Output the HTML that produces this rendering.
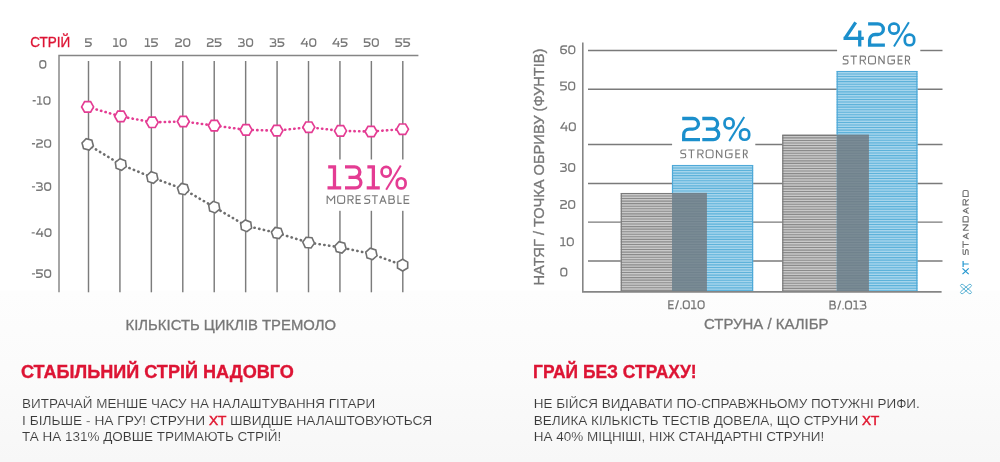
<!DOCTYPE html>
<html><head><meta charset="utf-8"><style>
html,body{margin:0;padding:0;background:#fff;}
body{width:1000px;height:462px;overflow:hidden;position:relative;font-family:"Liberation Sans", sans-serif;}
svg{position:absolute;left:0;top:0;will-change:transform;}
text{font-family:"Liberation Sans", sans-serif;}
</style></head><body>
<svg width="1000" height="462" viewBox="0 0 1000 462">
<defs>
<linearGradient id="bg" x1="0" y1="0" x2="0" y2="1">
<stop offset="0" stop-color="#fdfdfd"/><stop offset="0.45" stop-color="#fbfbfb"/><stop offset="1" stop-color="#f7f7f7"/>
</linearGradient>
</defs>
<rect x="0" y="0" width="1000" height="462" fill="#fff"/>
<rect x="0" y="290.5" width="1000" height="171.5" fill="url(#bg)"/>

<g stroke="#7c7c7c" stroke-width="1.45" fill="none">
<path d="M59,292.3 V55.5 H418.4" stroke="#858585"/>
<line x1="88.5" y1="61" x2="88.5" y2="292.3"/>
<line x1="119.93" y1="61" x2="119.93" y2="292.3"/>
<line x1="151.36" y1="61" x2="151.36" y2="292.3"/>
<line x1="182.79" y1="61" x2="182.79" y2="292.3"/>
<line x1="214.22" y1="61" x2="214.22" y2="292.3"/>
<line x1="245.65" y1="61" x2="245.65" y2="292.3"/>
<line x1="277.08" y1="61" x2="277.08" y2="292.3"/>
<line x1="308.51" y1="61" x2="308.51" y2="292.3"/>
<line x1="339.94" y1="61" x2="339.94" y2="292.3"/>
<line x1="371.37" y1="61" x2="371.37" y2="292.3"/>
<line x1="402.8" y1="61" x2="402.8" y2="292.3"/>
</g>
<text x="30.3" y="47" font-size="15" fill="#dd1434" stroke="#dd1434" stroke-width="0.35" textLength="40" lengthAdjust="spacingAndGlyphs">СТРІЙ</text>
<path d="M91.90,38.88 H85.77 V42.20 H88.79 A2.44,2.44 0 0 1 91.22,44.64 V43.79 A2.44,2.44 0 0 1 88.79,46.23 H85.10" fill="none" stroke="#7a7a7a" stroke-width="1.35"/>
<path d="M113.35,38.88 H116.73 M116.05,38.20 V46.90 M113.08,46.23 H118.48 M122.69,38.88 H123.67 A2.44,2.44 0 0 1 126.11,41.31 V43.79 A2.44,2.44 0 0 1 123.67,46.23 H122.69 A2.44,2.44 0 0 1 120.26,43.79 V41.31 A2.44,2.44 0 0 1 122.69,38.88 Z" fill="none" stroke="#7a7a7a" stroke-width="1.35"/>
<path d="M144.98,38.88 H148.36 M147.68,38.20 V46.90 M144.71,46.23 H150.11 M158.01,38.88 H151.89 V42.20 H154.90 A2.44,2.44 0 0 1 157.34,44.64 V43.79 A2.44,2.44 0 0 1 154.90,46.23 H151.21" fill="none" stroke="#7a7a7a" stroke-width="1.35"/>
<path d="M175.24,38.88 H178.93 A2.44,2.44 0 0 1 181.36,41.31 V40.11 A2.44,2.44 0 0 1 178.93,42.55 H178.35 A2.44,2.44 0 0 0 175.91,44.99 V46.23 H182.04 M186.25,38.88 H187.23 A2.44,2.44 0 0 1 189.66,41.31 V43.79 A2.44,2.44 0 0 1 187.23,46.23 H186.25 A2.44,2.44 0 0 1 183.81,43.79 V41.31 A2.44,2.44 0 0 1 186.25,38.88 Z" fill="none" stroke="#7a7a7a" stroke-width="1.35"/>
<path d="M206.87,38.88 H210.56 A2.44,2.44 0 0 1 213.00,41.31 V40.11 A2.44,2.44 0 0 1 210.56,42.55 H209.98 A2.44,2.44 0 0 0 207.55,44.99 V46.23 H213.67 M221.57,38.88 H215.45 V42.20 H218.46 A2.44,2.44 0 0 1 220.90,44.64 V43.79 A2.44,2.44 0 0 1 218.46,46.23 H214.77" fill="none" stroke="#7a7a7a" stroke-width="1.35"/>
<path d="M238.10,38.88 H241.98 A1.84,1.84 0 0 1 243.82,40.71 V40.71 A1.84,1.84 0 0 1 241.98,42.55 H240.14 M241.98,42.55 H242.39 A1.84,1.84 0 0 1 244.22,44.39 V44.39 A1.84,1.84 0 0 1 242.39,46.23 H238.10 M249.11,38.88 H250.09 A2.44,2.44 0 0 1 252.52,41.31 V43.79 A2.44,2.44 0 0 1 250.09,46.23 H249.11 A2.44,2.44 0 0 1 246.68,43.79 V41.31 A2.44,2.44 0 0 1 249.11,38.88 Z" fill="none" stroke="#7a7a7a" stroke-width="1.35"/>
<path d="M269.73,38.88 H273.61 A1.84,1.84 0 0 1 275.45,40.71 V40.71 A1.84,1.84 0 0 1 273.61,42.55 H271.77 M273.61,42.55 H274.02 A1.84,1.84 0 0 1 275.85,44.39 V44.39 A1.84,1.84 0 0 1 274.02,46.23 H269.73 M284.43,38.88 H278.30 V42.20 H281.32 A2.44,2.44 0 0 1 283.75,44.64 V43.79 A2.44,2.44 0 0 1 281.32,46.23 H277.63" fill="none" stroke="#7a7a7a" stroke-width="1.35"/>
<path d="M305.10,38.20 L301.33,43.94 M300.66,43.94 H308.06 M306.58,41.07 V46.90 M312.27,38.88 H313.25 A2.44,2.44 0 0 1 315.68,41.31 V43.79 A2.44,2.44 0 0 1 313.25,46.23 H312.27 A2.44,2.44 0 0 1 309.83,43.79 V41.31 A2.44,2.44 0 0 1 312.27,38.88 Z" fill="none" stroke="#7a7a7a" stroke-width="1.35"/>
<path d="M336.73,38.20 L332.97,43.94 M332.29,43.94 H339.69 M338.21,41.07 V46.90 M347.59,38.88 H341.47 V42.20 H344.48 A2.44,2.44 0 0 1 346.92,44.64 V43.79 A2.44,2.44 0 0 1 344.48,46.23 H340.79" fill="none" stroke="#7a7a7a" stroke-width="1.35"/>
<path d="M370.62,38.88 H364.50 V42.20 H367.51 A2.44,2.44 0 0 1 369.94,44.64 V43.79 A2.44,2.44 0 0 1 367.51,46.23 H363.82 M374.83,38.88 H375.81 A2.44,2.44 0 0 1 378.24,41.31 V43.79 A2.44,2.44 0 0 1 375.81,46.23 H374.83 A2.44,2.44 0 0 1 372.39,43.79 V41.31 A2.44,2.44 0 0 1 374.83,38.88 Z" fill="none" stroke="#7a7a7a" stroke-width="1.35"/>
<path d="M402.25,38.88 H396.12 V42.20 H399.14 A2.44,2.44 0 0 1 401.57,44.64 V43.79 A2.44,2.44 0 0 1 399.14,46.23 H395.45 M410.15,38.88 H404.02 V42.20 H407.04 A2.44,2.44 0 0 1 409.47,44.64 V43.79 A2.44,2.44 0 0 1 407.04,46.23 H403.35" fill="none" stroke="#7a7a7a" stroke-width="1.35"/>
<path d="M42.28,60.78 H43.32 A2.41,2.41 0 0 1 45.73,63.18 V65.62 A2.41,2.41 0 0 1 43.32,68.03 H42.28 A2.41,2.41 0 0 1 39.87,65.62 V63.18 A2.41,2.41 0 0 1 42.28,60.78 Z" fill="none" stroke="#7a7a7a" stroke-width="1.35"/>
<path d="M32.65,100.76 H35.75 M37.12,96.88 H40.49 M39.82,96.20 V104.80 M36.85,104.12 H42.25 M46.43,96.88 H47.47 A2.41,2.41 0 0 1 49.88,99.28 V101.72 A2.41,2.41 0 0 1 47.47,104.12 H46.43 A2.41,2.41 0 0 1 44.02,101.72 V99.28 A2.41,2.41 0 0 1 46.43,96.88 Z" fill="none" stroke="#7a7a7a" stroke-width="1.35"/>
<path d="M31.95,143.76 H35.05 M36.15,139.88 H39.87 A2.41,2.41 0 0 1 42.28,142.28 V141.09 A2.41,2.41 0 0 1 39.87,143.50 H39.23 A2.41,2.41 0 0 0 36.83,145.91 V147.12 H42.95 M47.13,139.88 H48.17 A2.41,2.41 0 0 1 50.58,142.28 V144.72 A2.41,2.41 0 0 1 48.17,147.12 H47.13 A2.41,2.41 0 0 1 44.73,144.72 V142.28 A2.41,2.41 0 0 1 47.13,139.88 Z" fill="none" stroke="#7a7a7a" stroke-width="1.35"/>
<path d="M31.95,186.86 H35.05 M36.15,182.97 H40.05 A1.81,1.81 0 0 1 41.87,184.79 V184.79 A1.81,1.81 0 0 1 40.05,186.60 H38.19 M40.05,186.60 H40.46 A1.81,1.81 0 0 1 42.28,188.41 V188.41 A1.81,1.81 0 0 1 40.46,190.22 H36.15 M47.13,182.97 H48.17 A2.41,2.41 0 0 1 50.58,185.38 V187.82 A2.41,2.41 0 0 1 48.17,190.22 H47.13 A2.41,2.41 0 0 1 44.73,187.82 V185.38 A2.41,2.41 0 0 1 47.13,182.97 Z" fill="none" stroke="#7a7a7a" stroke-width="1.35"/>
<path d="M31.65,232.86 H34.75 M40.29,228.30 L36.52,233.98 M35.85,233.98 H43.25 M41.77,231.14 V236.90 M47.43,228.97 H48.47 A2.41,2.41 0 0 1 50.88,231.38 V233.82 A2.41,2.41 0 0 1 48.47,236.22 H47.43 A2.41,2.41 0 0 1 45.02,233.82 V231.38 A2.41,2.41 0 0 1 47.43,228.97 Z" fill="none" stroke="#7a7a7a" stroke-width="1.35"/>
<path d="M31.95,273.86 H35.05 M42.95,269.98 H36.83 V273.26 H39.87 A2.41,2.41 0 0 1 42.28,275.66 V274.82 A2.41,2.41 0 0 1 39.87,277.23 H36.15 M47.13,269.98 H48.17 A2.41,2.41 0 0 1 50.58,272.38 V274.82 A2.41,2.41 0 0 1 48.17,277.23 H47.13 A2.41,2.41 0 0 1 44.73,274.82 V272.38 A2.41,2.41 0 0 1 47.13,269.98 Z" fill="none" stroke="#7a7a7a" stroke-width="1.35"/>
<rect x="322" y="159.5" width="92" height="51.3" fill="#fff"/>
<path d="M328.19,166.90 H335.99 M334.49,165.40 V189.40 M327.50,187.90 H341.20 M345.00,166.90 H354.67 A5.19,5.19 0 0 1 359.86,172.09 V172.09 A5.19,5.19 0 0 1 354.67,177.28 H348.48 M354.67,177.28 H355.59 A5.31,5.31 0 0 1 360.90,182.59 V182.59 A5.31,5.31 0 0 1 355.59,187.90 H345.00 M367.35,166.90 H374.88 M373.38,165.40 V189.40 M366.70,187.90 H379.80" fill="none" stroke="#e43c93" stroke-width="3.3"/>
<path d="M385.95,166.85 H386.35 A4.30,4.30 0 0 1 390.65,171.15 V172.24 A4.30,4.30 0 0 1 386.35,176.54 H385.95 A4.30,4.30 0 0 1 381.65,172.24 V171.15 A4.30,4.30 0 0 1 385.95,166.85 Z M401.11,178.27 H401.25 A4.30,4.30 0 0 1 405.55,182.57 V184.15 A4.30,4.30 0 0 1 401.25,188.45 H401.11 A4.30,4.30 0 0 1 396.81,184.15 V182.57 A4.30,4.30 0 0 1 401.11,178.27 Z" fill="none" stroke="#e43c93" stroke-width="2.7"/><path d="M400.78,165.50 L386.15,189.80" fill="none" stroke="#e43c93" stroke-width="2.0"/>
<path d="M327.18,203.90 V195.77 L330.90,200.59 L334.62,195.77 V203.90 M339.42,195.77 H342.88 A1.74,1.74 0 0 1 344.62,197.51 V201.58 A1.74,1.74 0 0 1 342.88,203.32 H339.42 A1.74,1.74 0 0 1 337.68,201.58 V197.51 A1.74,1.74 0 0 1 339.42,195.77 Z M348.07,203.90 V195.77 H351.38 A1.74,1.74 0 0 1 353.12,197.51 V197.98 A1.74,1.74 0 0 1 351.38,199.72 H348.07 M350.60,199.72 L353.35,203.90 M360.80,195.77 H356.18 V203.32 H360.80 M356.18,199.55 H360.28 M370.30,195.77 H366.51 A1.74,1.74 0 0 0 364.77,197.51 V197.64 A1.74,1.74 0 0 0 366.51,199.38 H367.99 A1.74,1.74 0 0 1 369.73,201.12 V201.58 A1.74,1.74 0 0 1 367.99,203.32 H364.20 M371.80,195.77 H377.90 M374.85,195.77 V203.90 M379.75,203.90 L382.95,195.77 L386.15,203.90 M380.96,201.12 H384.94 M388.97,195.20 V203.90 M388.40,195.77 H392.29 A1.74,1.74 0 0 1 394.03,197.51 V197.55 A1.74,1.74 0 0 1 392.29,199.29 H388.97 M388.97,199.29 H392.69 A1.74,1.74 0 0 1 394.43,201.03 V201.58 A1.74,1.74 0 0 1 392.69,203.32 H388.40 M397.97,195.20 V203.32 H401.70 M409.30,195.77 H404.18 V203.32 H409.30 M404.18,199.55 H408.73" fill="none" stroke="#7a7a7a" stroke-width="1.15" stroke-miterlimit="1.8" />
<polyline points="87.6,106.9 120.7,116.4 152.2,122.3 183.3,121.5 214.3,125.6 246.1,129.9 276.9,130.6 308.8,127.2 340.5,130.9 371,131.5 402.5,129.2" fill="none" stroke="#e43c93" stroke-width="2.6" stroke-linecap="round" stroke-dasharray="0.3 4.35"/>
<path d="M93.60,106.90 L90.60,112.10 L84.60,112.10 L81.60,106.90 L84.60,101.70 L90.60,101.70 Z" fill="#fff" stroke="#e43c93" stroke-width="1.7"/>
<path d="M126.70,116.40 L123.70,121.60 L117.70,121.60 L114.70,116.40 L117.70,111.20 L123.70,111.20 Z" fill="#fff" stroke="#e43c93" stroke-width="1.7"/>
<path d="M158.20,122.30 L155.20,127.50 L149.20,127.50 L146.20,122.30 L149.20,117.10 L155.20,117.10 Z" fill="#fff" stroke="#e43c93" stroke-width="1.7"/>
<path d="M189.30,121.50 L186.30,126.70 L180.30,126.70 L177.30,121.50 L180.30,116.30 L186.30,116.30 Z" fill="#fff" stroke="#e43c93" stroke-width="1.7"/>
<path d="M220.30,125.60 L217.30,130.80 L211.30,130.80 L208.30,125.60 L211.30,120.40 L217.30,120.40 Z" fill="#fff" stroke="#e43c93" stroke-width="1.7"/>
<path d="M252.10,129.90 L249.10,135.10 L243.10,135.10 L240.10,129.90 L243.10,124.70 L249.10,124.70 Z" fill="#fff" stroke="#e43c93" stroke-width="1.7"/>
<path d="M282.90,130.60 L279.90,135.80 L273.90,135.80 L270.90,130.60 L273.90,125.40 L279.90,125.40 Z" fill="#fff" stroke="#e43c93" stroke-width="1.7"/>
<path d="M314.80,127.20 L311.80,132.40 L305.80,132.40 L302.80,127.20 L305.80,122.00 L311.80,122.00 Z" fill="#fff" stroke="#e43c93" stroke-width="1.7"/>
<path d="M346.50,130.90 L343.50,136.10 L337.50,136.10 L334.50,130.90 L337.50,125.70 L343.50,125.70 Z" fill="#fff" stroke="#e43c93" stroke-width="1.7"/>
<path d="M377.00,131.50 L374.00,136.70 L368.00,136.70 L365.00,131.50 L368.00,126.30 L374.00,126.30 Z" fill="#fff" stroke="#e43c93" stroke-width="1.7"/>
<path d="M408.50,129.20 L405.50,134.40 L399.50,134.40 L396.50,129.20 L399.50,124.00 L405.50,124.00 Z" fill="#fff" stroke="#e43c93" stroke-width="1.7"/>
<polyline points="87.7,144.4 120.8,164.5 152.3,177.5 183.2,189.1 214.2,207.1 246.1,225.8 277.2,233 308.6,242.6 340.5,247.4 371.4,253.9 402.6,265.1" fill="none" stroke="#6e6e6e" stroke-width="2.6" stroke-linecap="round" stroke-dasharray="0.3 4.5"/>
<path d="M93.40,145.93 L89.23,150.10 L83.53,148.57 L82.00,142.87 L86.17,138.70 L91.87,140.23 Z" fill="#fff" stroke="#707070" stroke-width="1.6"/>
<path d="M126.27,166.71 L121.62,170.34 L116.15,168.13 L115.33,162.29 L119.98,158.66 L125.45,160.87 Z" fill="#fff" stroke="#707070" stroke-width="1.6"/>
<path d="M157.91,179.32 L153.53,183.27 L147.92,181.45 L146.69,175.68 L151.07,171.73 L156.68,173.55 Z" fill="#fff" stroke="#707070" stroke-width="1.6"/>
<path d="M188.97,190.33 L185.02,194.71 L179.25,193.48 L177.43,187.87 L181.38,183.49 L187.15,184.72 Z" fill="#fff" stroke="#707070" stroke-width="1.6"/>
<path d="M219.74,209.12 L215.22,212.91 L209.68,210.89 L208.66,205.08 L213.18,201.29 L218.72,203.31 Z" fill="#fff" stroke="#707070" stroke-width="1.6"/>
<path d="M251.57,228.01 L246.92,231.64 L241.45,229.43 L240.63,223.59 L245.28,219.96 L250.75,222.17 Z" fill="#fff" stroke="#707070" stroke-width="1.6"/>
<path d="M283.01,234.02 L279.22,238.54 L273.41,237.52 L271.39,231.98 L275.18,227.46 L280.99,228.48 Z" fill="#fff" stroke="#707070" stroke-width="1.6"/>
<path d="M314.48,243.11 L311.09,247.95 L305.22,247.43 L302.72,242.09 L306.11,237.25 L311.98,237.77 Z" fill="#fff" stroke="#707070" stroke-width="1.6"/>
<path d="M346.20,248.93 L342.03,253.10 L336.33,251.57 L334.80,245.87 L338.97,241.70 L344.67,243.23 Z" fill="#fff" stroke="#707070" stroke-width="1.6"/>
<path d="M377.01,255.72 L372.63,259.67 L367.02,257.85 L365.79,252.08 L370.17,248.13 L375.78,249.95 Z" fill="#fff" stroke="#707070" stroke-width="1.6"/>
<path d="M407.71,268.05 L402.60,271.00 L397.49,268.05 L397.49,262.15 L402.60,259.20 L407.71,262.15 Z" fill="#fff" stroke="#707070" stroke-width="1.6"/>
<text x="125.6" y="329.5" font-size="14" fill="#777" stroke="#777" stroke-width="0.3" textLength="210.4" lengthAdjust="spacingAndGlyphs">КІЛЬКІСТЬ ЦИКЛІВ ТРЕМОЛО</text>
<g stroke="#7a7a7a" stroke-width="1.45" fill="none">
<line x1="588" y1="89.2" x2="942.5" y2="89.2"/>
<line x1="588" y1="183.5" x2="942.5" y2="183.5"/>
<line x1="588" y1="222.1" x2="942.5" y2="222.1"/>
<line x1="588" y1="260.9" x2="942.5" y2="260.9"/>
<line x1="588" y1="50.5" x2="837.1" y2="50.5"/><line x1="920.3" y1="50.5" x2="942.5" y2="50.5"/>
<line x1="588" y1="144.5" x2="672.1" y2="144.5"/><line x1="755.3" y1="144.5" x2="942.5" y2="144.5"/>
</g>
<rect x="620.8" y="192.9" width="86.10" height="98.30" fill="#c8c8c8"/>
<path d="M620.8,192.90h86.10v1.10h-86.10zM620.8,195.45h86.10v1.10h-86.10zM620.8,198.00h86.10v1.10h-86.10zM620.8,200.55h86.10v1.10h-86.10zM620.8,203.10h86.10v1.10h-86.10zM620.8,205.65h86.10v1.10h-86.10zM620.8,208.20h86.10v1.10h-86.10zM620.8,210.75h86.10v1.10h-86.10zM620.8,213.30h86.10v1.10h-86.10zM620.8,215.85h86.10v1.10h-86.10zM620.8,218.40h86.10v1.10h-86.10zM620.8,220.95h86.10v1.10h-86.10zM620.8,223.50h86.10v1.10h-86.10zM620.8,226.05h86.10v1.10h-86.10zM620.8,228.60h86.10v1.10h-86.10zM620.8,231.15h86.10v1.10h-86.10zM620.8,233.70h86.10v1.10h-86.10zM620.8,236.25h86.10v1.10h-86.10zM620.8,238.80h86.10v1.10h-86.10zM620.8,241.35h86.10v1.10h-86.10zM620.8,243.90h86.10v1.10h-86.10zM620.8,246.45h86.10v1.10h-86.10zM620.8,249.00h86.10v1.10h-86.10zM620.8,251.55h86.10v1.10h-86.10zM620.8,254.10h86.10v1.10h-86.10zM620.8,256.65h86.10v1.10h-86.10zM620.8,259.20h86.10v1.10h-86.10zM620.8,261.75h86.10v1.10h-86.10zM620.8,264.30h86.10v1.10h-86.10zM620.8,266.85h86.10v1.10h-86.10zM620.8,269.40h86.10v1.10h-86.10zM620.8,271.95h86.10v1.10h-86.10zM620.8,274.50h86.10v1.10h-86.10zM620.8,277.05h86.10v1.10h-86.10zM620.8,279.60h86.10v1.10h-86.10zM620.8,282.15h86.10v1.10h-86.10zM620.8,284.70h86.10v1.10h-86.10zM620.8,287.25h86.10v1.10h-86.10zM620.8,289.80h86.10v1.10h-86.10z" fill="#8a8a8a"/>
<rect x="672" y="164.9" width="81.10" height="126.30" fill="#a6d5ec"/>
<path d="M672,164.90h81.10v1.10h-81.10zM672,167.45h81.10v1.10h-81.10zM672,170.00h81.10v1.10h-81.10zM672,172.55h81.10v1.10h-81.10zM672,175.10h81.10v1.10h-81.10zM672,177.65h81.10v1.10h-81.10zM672,180.20h81.10v1.10h-81.10zM672,182.75h81.10v1.10h-81.10zM672,185.30h81.10v1.10h-81.10zM672,187.85h81.10v1.10h-81.10zM672,190.40h81.10v1.10h-81.10zM672,192.95h81.10v1.10h-81.10zM672,195.50h81.10v1.10h-81.10zM672,198.05h81.10v1.10h-81.10zM672,200.60h81.10v1.10h-81.10zM672,203.15h81.10v1.10h-81.10zM672,205.70h81.10v1.10h-81.10zM672,208.25h81.10v1.10h-81.10zM672,210.80h81.10v1.10h-81.10zM672,213.35h81.10v1.10h-81.10zM672,215.90h81.10v1.10h-81.10zM672,218.45h81.10v1.10h-81.10zM672,221.00h81.10v1.10h-81.10zM672,223.55h81.10v1.10h-81.10zM672,226.10h81.10v1.10h-81.10zM672,228.65h81.10v1.10h-81.10zM672,231.20h81.10v1.10h-81.10zM672,233.75h81.10v1.10h-81.10zM672,236.30h81.10v1.10h-81.10zM672,238.85h81.10v1.10h-81.10zM672,241.40h81.10v1.10h-81.10zM672,243.95h81.10v1.10h-81.10zM672,246.50h81.10v1.10h-81.10zM672,249.05h81.10v1.10h-81.10zM672,251.60h81.10v1.10h-81.10zM672,254.15h81.10v1.10h-81.10zM672,256.70h81.10v1.10h-81.10zM672,259.25h81.10v1.10h-81.10zM672,261.80h81.10v1.10h-81.10zM672,264.35h81.10v1.10h-81.10zM672,266.90h81.10v1.10h-81.10zM672,269.45h81.10v1.10h-81.10zM672,272.00h81.10v1.10h-81.10zM672,274.55h81.10v1.10h-81.10zM672,277.10h81.10v1.10h-81.10zM672,279.65h81.10v1.10h-81.10zM672,282.20h81.10v1.10h-81.10zM672,284.75h81.10v1.10h-81.10zM672,287.30h81.10v1.10h-81.10zM672,289.85h81.10v1.10h-81.10z" fill="#5db2da"/>
<rect x="672" y="192.9" width="34.90" height="98.30" fill="#7a8b95"/>
<path d="M672,192.90h34.90v1.10h-34.90zM672,195.45h34.90v1.10h-34.90zM672,198.00h34.90v1.10h-34.90zM672,200.55h34.90v1.10h-34.90zM672,203.10h34.90v1.10h-34.90zM672,205.65h34.90v1.10h-34.90zM672,208.20h34.90v1.10h-34.90zM672,210.75h34.90v1.10h-34.90zM672,213.30h34.90v1.10h-34.90zM672,215.85h34.90v1.10h-34.90zM672,218.40h34.90v1.10h-34.90zM672,220.95h34.90v1.10h-34.90zM672,223.50h34.90v1.10h-34.90zM672,226.05h34.90v1.10h-34.90zM672,228.60h34.90v1.10h-34.90zM672,231.15h34.90v1.10h-34.90zM672,233.70h34.90v1.10h-34.90zM672,236.25h34.90v1.10h-34.90zM672,238.80h34.90v1.10h-34.90zM672,241.35h34.90v1.10h-34.90zM672,243.90h34.90v1.10h-34.90zM672,246.45h34.90v1.10h-34.90zM672,249.00h34.90v1.10h-34.90zM672,251.55h34.90v1.10h-34.90zM672,254.10h34.90v1.10h-34.90zM672,256.65h34.90v1.10h-34.90zM672,259.20h34.90v1.10h-34.90zM672,261.75h34.90v1.10h-34.90zM672,264.30h34.90v1.10h-34.90zM672,266.85h34.90v1.10h-34.90zM672,269.40h34.90v1.10h-34.90zM672,271.95h34.90v1.10h-34.90zM672,274.50h34.90v1.10h-34.90zM672,277.05h34.90v1.10h-34.90zM672,279.60h34.90v1.10h-34.90zM672,282.15h34.90v1.10h-34.90zM672,284.70h34.90v1.10h-34.90zM672,287.25h34.90v1.10h-34.90zM672,289.80h34.90v1.10h-34.90z" fill="#70828d"/>
<path d="M621.3,291.2 V193.5 H672" fill="none" stroke="#7a7a7a" stroke-width="1.2"/>
<path d="M672.5,192.9 V165.5 H752.6 V291.2" fill="none" stroke="#4fa9d8" stroke-width="1.2"/>
<rect x="782.3" y="134.8" width="86.60" height="156.40" fill="#c8c8c8"/>
<path d="M782.3,134.80h86.60v1.10h-86.60zM782.3,137.35h86.60v1.10h-86.60zM782.3,139.90h86.60v1.10h-86.60zM782.3,142.45h86.60v1.10h-86.60zM782.3,145.00h86.60v1.10h-86.60zM782.3,147.55h86.60v1.10h-86.60zM782.3,150.10h86.60v1.10h-86.60zM782.3,152.65h86.60v1.10h-86.60zM782.3,155.20h86.60v1.10h-86.60zM782.3,157.75h86.60v1.10h-86.60zM782.3,160.30h86.60v1.10h-86.60zM782.3,162.85h86.60v1.10h-86.60zM782.3,165.40h86.60v1.10h-86.60zM782.3,167.95h86.60v1.10h-86.60zM782.3,170.50h86.60v1.10h-86.60zM782.3,173.05h86.60v1.10h-86.60zM782.3,175.60h86.60v1.10h-86.60zM782.3,178.15h86.60v1.10h-86.60zM782.3,180.70h86.60v1.10h-86.60zM782.3,183.25h86.60v1.10h-86.60zM782.3,185.80h86.60v1.10h-86.60zM782.3,188.35h86.60v1.10h-86.60zM782.3,190.90h86.60v1.10h-86.60zM782.3,193.45h86.60v1.10h-86.60zM782.3,196.00h86.60v1.10h-86.60zM782.3,198.55h86.60v1.10h-86.60zM782.3,201.10h86.60v1.10h-86.60zM782.3,203.65h86.60v1.10h-86.60zM782.3,206.20h86.60v1.10h-86.60zM782.3,208.75h86.60v1.10h-86.60zM782.3,211.30h86.60v1.10h-86.60zM782.3,213.85h86.60v1.10h-86.60zM782.3,216.40h86.60v1.10h-86.60zM782.3,218.95h86.60v1.10h-86.60zM782.3,221.50h86.60v1.10h-86.60zM782.3,224.05h86.60v1.10h-86.60zM782.3,226.60h86.60v1.10h-86.60zM782.3,229.15h86.60v1.10h-86.60zM782.3,231.70h86.60v1.10h-86.60zM782.3,234.25h86.60v1.10h-86.60zM782.3,236.80h86.60v1.10h-86.60zM782.3,239.35h86.60v1.10h-86.60zM782.3,241.90h86.60v1.10h-86.60zM782.3,244.45h86.60v1.10h-86.60zM782.3,247.00h86.60v1.10h-86.60zM782.3,249.55h86.60v1.10h-86.60zM782.3,252.10h86.60v1.10h-86.60zM782.3,254.65h86.60v1.10h-86.60zM782.3,257.20h86.60v1.10h-86.60zM782.3,259.75h86.60v1.10h-86.60zM782.3,262.30h86.60v1.10h-86.60zM782.3,264.85h86.60v1.10h-86.60zM782.3,267.40h86.60v1.10h-86.60zM782.3,269.95h86.60v1.10h-86.60zM782.3,272.50h86.60v1.10h-86.60zM782.3,275.05h86.60v1.10h-86.60zM782.3,277.60h86.60v1.10h-86.60zM782.3,280.15h86.60v1.10h-86.60zM782.3,282.70h86.60v1.10h-86.60zM782.3,285.25h86.60v1.10h-86.60zM782.3,287.80h86.60v1.10h-86.60zM782.3,290.35h86.60v0.85h-86.60z" fill="#8a8a8a"/>
<rect x="836.7" y="70.9" width="80.70" height="220.30" fill="#a6d5ec"/>
<path d="M836.7,70.90h80.70v1.10h-80.70zM836.7,73.45h80.70v1.10h-80.70zM836.7,76.00h80.70v1.10h-80.70zM836.7,78.55h80.70v1.10h-80.70zM836.7,81.10h80.70v1.10h-80.70zM836.7,83.65h80.70v1.10h-80.70zM836.7,86.20h80.70v1.10h-80.70zM836.7,88.75h80.70v1.10h-80.70zM836.7,91.30h80.70v1.10h-80.70zM836.7,93.85h80.70v1.10h-80.70zM836.7,96.40h80.70v1.10h-80.70zM836.7,98.95h80.70v1.10h-80.70zM836.7,101.50h80.70v1.10h-80.70zM836.7,104.05h80.70v1.10h-80.70zM836.7,106.60h80.70v1.10h-80.70zM836.7,109.15h80.70v1.10h-80.70zM836.7,111.70h80.70v1.10h-80.70zM836.7,114.25h80.70v1.10h-80.70zM836.7,116.80h80.70v1.10h-80.70zM836.7,119.35h80.70v1.10h-80.70zM836.7,121.90h80.70v1.10h-80.70zM836.7,124.45h80.70v1.10h-80.70zM836.7,127.00h80.70v1.10h-80.70zM836.7,129.55h80.70v1.10h-80.70zM836.7,132.10h80.70v1.10h-80.70zM836.7,134.65h80.70v1.10h-80.70zM836.7,137.20h80.70v1.10h-80.70zM836.7,139.75h80.70v1.10h-80.70zM836.7,142.30h80.70v1.10h-80.70zM836.7,144.85h80.70v1.10h-80.70zM836.7,147.40h80.70v1.10h-80.70zM836.7,149.95h80.70v1.10h-80.70zM836.7,152.50h80.70v1.10h-80.70zM836.7,155.05h80.70v1.10h-80.70zM836.7,157.60h80.70v1.10h-80.70zM836.7,160.15h80.70v1.10h-80.70zM836.7,162.70h80.70v1.10h-80.70zM836.7,165.25h80.70v1.10h-80.70zM836.7,167.80h80.70v1.10h-80.70zM836.7,170.35h80.70v1.10h-80.70zM836.7,172.90h80.70v1.10h-80.70zM836.7,175.45h80.70v1.10h-80.70zM836.7,178.00h80.70v1.10h-80.70zM836.7,180.55h80.70v1.10h-80.70zM836.7,183.10h80.70v1.10h-80.70zM836.7,185.65h80.70v1.10h-80.70zM836.7,188.20h80.70v1.10h-80.70zM836.7,190.75h80.70v1.10h-80.70zM836.7,193.30h80.70v1.10h-80.70zM836.7,195.85h80.70v1.10h-80.70zM836.7,198.40h80.70v1.10h-80.70zM836.7,200.95h80.70v1.10h-80.70zM836.7,203.50h80.70v1.10h-80.70zM836.7,206.05h80.70v1.10h-80.70zM836.7,208.60h80.70v1.10h-80.70zM836.7,211.15h80.70v1.10h-80.70zM836.7,213.70h80.70v1.10h-80.70zM836.7,216.25h80.70v1.10h-80.70zM836.7,218.80h80.70v1.10h-80.70zM836.7,221.35h80.70v1.10h-80.70zM836.7,223.90h80.70v1.10h-80.70zM836.7,226.45h80.70v1.10h-80.70zM836.7,229.00h80.70v1.10h-80.70zM836.7,231.55h80.70v1.10h-80.70zM836.7,234.10h80.70v1.10h-80.70zM836.7,236.65h80.70v1.10h-80.70zM836.7,239.20h80.70v1.10h-80.70zM836.7,241.75h80.70v1.10h-80.70zM836.7,244.30h80.70v1.10h-80.70zM836.7,246.85h80.70v1.10h-80.70zM836.7,249.40h80.70v1.10h-80.70zM836.7,251.95h80.70v1.10h-80.70zM836.7,254.50h80.70v1.10h-80.70zM836.7,257.05h80.70v1.10h-80.70zM836.7,259.60h80.70v1.10h-80.70zM836.7,262.15h80.70v1.10h-80.70zM836.7,264.70h80.70v1.10h-80.70zM836.7,267.25h80.70v1.10h-80.70zM836.7,269.80h80.70v1.10h-80.70zM836.7,272.35h80.70v1.10h-80.70zM836.7,274.90h80.70v1.10h-80.70zM836.7,277.45h80.70v1.10h-80.70zM836.7,280.00h80.70v1.10h-80.70zM836.7,282.55h80.70v1.10h-80.70zM836.7,285.10h80.70v1.10h-80.70zM836.7,287.65h80.70v1.10h-80.70zM836.7,290.20h80.70v1.00h-80.70z" fill="#5db2da"/>
<rect x="836.7" y="134.8" width="32.20" height="156.40" fill="#7a8b95"/>
<path d="M836.7,134.80h32.20v1.10h-32.20zM836.7,137.35h32.20v1.10h-32.20zM836.7,139.90h32.20v1.10h-32.20zM836.7,142.45h32.20v1.10h-32.20zM836.7,145.00h32.20v1.10h-32.20zM836.7,147.55h32.20v1.10h-32.20zM836.7,150.10h32.20v1.10h-32.20zM836.7,152.65h32.20v1.10h-32.20zM836.7,155.20h32.20v1.10h-32.20zM836.7,157.75h32.20v1.10h-32.20zM836.7,160.30h32.20v1.10h-32.20zM836.7,162.85h32.20v1.10h-32.20zM836.7,165.40h32.20v1.10h-32.20zM836.7,167.95h32.20v1.10h-32.20zM836.7,170.50h32.20v1.10h-32.20zM836.7,173.05h32.20v1.10h-32.20zM836.7,175.60h32.20v1.10h-32.20zM836.7,178.15h32.20v1.10h-32.20zM836.7,180.70h32.20v1.10h-32.20zM836.7,183.25h32.20v1.10h-32.20zM836.7,185.80h32.20v1.10h-32.20zM836.7,188.35h32.20v1.10h-32.20zM836.7,190.90h32.20v1.10h-32.20zM836.7,193.45h32.20v1.10h-32.20zM836.7,196.00h32.20v1.10h-32.20zM836.7,198.55h32.20v1.10h-32.20zM836.7,201.10h32.20v1.10h-32.20zM836.7,203.65h32.20v1.10h-32.20zM836.7,206.20h32.20v1.10h-32.20zM836.7,208.75h32.20v1.10h-32.20zM836.7,211.30h32.20v1.10h-32.20zM836.7,213.85h32.20v1.10h-32.20zM836.7,216.40h32.20v1.10h-32.20zM836.7,218.95h32.20v1.10h-32.20zM836.7,221.50h32.20v1.10h-32.20zM836.7,224.05h32.20v1.10h-32.20zM836.7,226.60h32.20v1.10h-32.20zM836.7,229.15h32.20v1.10h-32.20zM836.7,231.70h32.20v1.10h-32.20zM836.7,234.25h32.20v1.10h-32.20zM836.7,236.80h32.20v1.10h-32.20zM836.7,239.35h32.20v1.10h-32.20zM836.7,241.90h32.20v1.10h-32.20zM836.7,244.45h32.20v1.10h-32.20zM836.7,247.00h32.20v1.10h-32.20zM836.7,249.55h32.20v1.10h-32.20zM836.7,252.10h32.20v1.10h-32.20zM836.7,254.65h32.20v1.10h-32.20zM836.7,257.20h32.20v1.10h-32.20zM836.7,259.75h32.20v1.10h-32.20zM836.7,262.30h32.20v1.10h-32.20zM836.7,264.85h32.20v1.10h-32.20zM836.7,267.40h32.20v1.10h-32.20zM836.7,269.95h32.20v1.10h-32.20zM836.7,272.50h32.20v1.10h-32.20zM836.7,275.05h32.20v1.10h-32.20zM836.7,277.60h32.20v1.10h-32.20zM836.7,280.15h32.20v1.10h-32.20zM836.7,282.70h32.20v1.10h-32.20zM836.7,285.25h32.20v1.10h-32.20zM836.7,287.80h32.20v1.10h-32.20zM836.7,290.35h32.20v0.85h-32.20z" fill="#70828d"/>
<path d="M782.8,291.2 V135.4 H836.7" fill="none" stroke="#7a7a7a" stroke-width="1.2"/>
<path d="M837.2,134.8 V71.5 H916.9 V291.2" fill="none" stroke="#4fa9d8" stroke-width="1.2"/>
<path d="M582.8,42.5 V291.9 H941.6" fill="none" stroke="#858585" stroke-width="1.6"/>
<path d="M567.10,45.97 H563.39 A2.52,2.52 0 0 0 560.88,48.49 V51.10 A2.52,2.52 0 0 0 563.39,53.62 H563.91 A2.52,2.52 0 0 0 566.43,51.10 V51.96 A2.52,2.52 0 0 0 563.91,49.44 H560.88 M571.39,45.97 H572.21 A2.52,2.52 0 0 1 574.73,48.49 V51.10 A2.52,2.52 0 0 1 572.21,53.62 H571.39 A2.52,2.52 0 0 1 568.88,51.10 V48.49 A2.52,2.52 0 0 1 571.39,45.97 Z" fill="none" stroke="#7a7a7a" stroke-width="1.35"/>
<path d="M567.00,82.17 H560.88 V85.64 H563.81 A2.52,2.52 0 0 1 566.33,88.16 V87.31 A2.52,2.52 0 0 1 563.81,89.83 H560.20 M571.29,82.17 H572.11 A2.52,2.52 0 0 1 574.63,84.69 V87.31 A2.52,2.52 0 0 1 572.11,89.83 H571.29 A2.52,2.52 0 0 1 568.77,87.31 V84.69 A2.52,2.52 0 0 1 571.29,82.17 Z" fill="none" stroke="#7a7a7a" stroke-width="1.35"/>
<path d="M564.64,122.20 L560.88,128.14 M560.20,128.14 H567.60 M566.12,125.17 V131.20 M571.89,122.88 H572.71 A2.52,2.52 0 0 1 575.23,125.39 V128.00 A2.52,2.52 0 0 1 572.71,130.52 H571.89 A2.52,2.52 0 0 1 569.38,128.00 V125.39 A2.52,2.52 0 0 1 571.89,122.88 Z" fill="none" stroke="#7a7a7a" stroke-width="1.35"/>
<path d="M560.20,163.58 H564.00 A1.91,1.91 0 0 1 565.92,165.49 V165.49 A1.91,1.91 0 0 1 564.00,167.40 H562.24 M564.00,167.40 H564.41 A1.91,1.91 0 0 1 566.33,169.31 V169.31 A1.91,1.91 0 0 1 564.41,171.22 H560.20 M571.29,163.58 H572.11 A2.52,2.52 0 0 1 574.63,166.10 V168.70 A2.52,2.52 0 0 1 572.11,171.22 H571.29 A2.52,2.52 0 0 1 568.77,168.70 V166.10 A2.52,2.52 0 0 1 571.29,163.58 Z" fill="none" stroke="#7a7a7a" stroke-width="1.35"/>
<path d="M560.20,200.68 H563.81 A2.52,2.52 0 0 1 566.33,203.20 V201.98 A2.52,2.52 0 0 1 563.81,204.50 H563.39 A2.52,2.52 0 0 0 560.88,207.02 V208.32 H567.00 M571.29,200.68 H572.11 A2.52,2.52 0 0 1 574.63,203.20 V205.80 A2.52,2.52 0 0 1 572.11,208.32 H571.29 A2.52,2.52 0 0 1 568.77,205.80 V203.20 A2.52,2.52 0 0 1 571.29,200.68 Z" fill="none" stroke="#7a7a7a" stroke-width="1.35"/>
<path d="M560.47,237.98 H563.85 M563.17,237.30 V246.30 M560.20,245.62 H565.60 M569.89,237.98 H570.71 A2.52,2.52 0 0 1 573.23,240.50 V243.10 A2.52,2.52 0 0 1 570.71,245.62 H569.89 A2.52,2.52 0 0 1 567.38,243.10 V240.50 A2.52,2.52 0 0 1 569.89,237.98 Z" fill="none" stroke="#7a7a7a" stroke-width="1.35"/>
<path d="M563.39,268.28 H564.21 A2.52,2.52 0 0 1 566.73,270.80 V273.41 A2.52,2.52 0 0 1 564.21,275.93 H563.39 A2.52,2.52 0 0 1 560.88,273.41 V270.80 A2.52,2.52 0 0 1 563.39,268.28 Z" fill="none" stroke="#7a7a7a" stroke-width="1.35"/>
<text transform="translate(544.3,285.5) rotate(-90)" font-size="14" fill="#777" stroke="#777" stroke-width="0.3" textLength="237" lengthAdjust="spacingAndGlyphs">НАТЯГ / ТОЧКА ОБРИВУ (ФУНТІВ)</text>
<path d="M682.20,118.50 H692.90 A5.60,5.60 0 0 1 698.50,124.10 V123.45 A5.60,5.60 0 0 1 692.90,129.05 H689.30 A5.60,5.60 0 0 0 683.70,134.65 V139.60 H700.00 M702.30,118.50 H712.35 A5.28,5.28 0 0 1 717.63,123.78 V123.78 A5.28,5.28 0 0 1 712.35,129.05 H705.88 M712.35,129.05 H713.42 A5.27,5.27 0 0 1 718.70,134.32 V134.32 A5.27,5.27 0 0 1 713.42,139.60 H702.30" fill="none" stroke="#1b8fcc" stroke-width="3.3"/>
<path d="M728.85,118.35 H729.29 A4.30,4.30 0 0 1 733.59,122.65 V124.12 A4.30,4.30 0 0 1 729.29,128.42 H728.85 A4.30,4.30 0 0 1 724.55,124.12 V122.65 A4.30,4.30 0 0 1 728.85,118.35 Z M744.41,129.44 H744.85 A4.30,4.30 0 0 1 749.15,133.74 V135.45 A4.30,4.30 0 0 1 744.85,139.75 H744.41 A4.30,4.30 0 0 1 740.11,135.45 V133.74 A4.30,4.30 0 0 1 744.41,129.44 Z" fill="none" stroke="#1b8fcc" stroke-width="2.7"/><path d="M744.22,117.00 L729.21,141.10" fill="none" stroke="#1b8fcc" stroke-width="2.0"/>
<path d="M686.30,149.97 H682.56 A1.78,1.78 0 0 0 680.78,151.75 V151.89 A1.78,1.78 0 0 0 682.56,153.67 H683.94 A1.78,1.78 0 0 1 685.72,155.45 V155.95 A1.78,1.78 0 0 1 683.94,157.73 H680.20 M688.20,149.97 H694.60 M691.40,149.97 V158.30 M697.88,158.30 V149.97 H701.35 A1.78,1.78 0 0 1 703.12,151.75 V152.25 A1.78,1.78 0 0 1 701.35,154.03 H697.88 M700.50,154.03 L703.36,158.30 M707.96,149.97 H711.25 A1.78,1.78 0 0 1 713.02,151.75 V155.95 A1.78,1.78 0 0 1 711.25,157.73 H707.96 A1.78,1.78 0 0 1 706.18,155.95 V151.75 A1.78,1.78 0 0 1 707.96,149.97 Z M716.48,158.30 V149.97 L721.82,157.73 V149.40 M732.60,149.97 H727.36 A1.78,1.78 0 0 0 725.58,151.75 V155.95 A1.78,1.78 0 0 0 727.36,157.73 H730.25 A1.78,1.78 0 0 0 732.02,155.95 V153.85 H728.80 M740.20,149.97 H735.88 V157.73 H740.20 M735.88,153.85 H739.71 M743.48,158.30 V149.97 H745.44 A1.78,1.78 0 0 1 747.22,151.75 V152.25 A1.78,1.78 0 0 1 745.44,154.03 H743.48 M745.35,154.03 L747.45,158.30" fill="none" stroke="#7a7a7a" stroke-width="1.15" stroke-miterlimit="1.8" />
<path d="M855.68,22.40 L845.00,38.37 M843.50,38.37 H863.80 M859.74,30.39 V46.60 M868.10,23.90 H877.80 A5.60,5.60 0 0 1 883.40,29.50 V28.90 A5.60,5.60 0 0 1 877.80,34.50 H875.20 A5.60,5.60 0 0 0 869.60,40.10 V45.10 H884.90" fill="none" stroke="#1b8fcc" stroke-width="3.3"/>
<path d="M893.55,23.65 H894.39 A4.30,4.30 0 0 1 898.69,27.95 V29.29 A4.30,4.30 0 0 1 894.39,33.59 H893.55 A4.30,4.30 0 0 1 889.25,29.29 V27.95 A4.30,4.30 0 0 1 893.55,23.65 Z M909.14,34.59 H909.85 A4.30,4.30 0 0 1 914.15,38.88 V40.95 A4.30,4.30 0 0 1 909.85,45.25 H909.14 A4.30,4.30 0 0 1 904.84,40.95 V38.88 A4.30,4.30 0 0 1 909.14,34.59 Z" fill="none" stroke="#1b8fcc" stroke-width="2.7"/><path d="M908.88,22.30 L893.97,46.60" fill="none" stroke="#1b8fcc" stroke-width="2.0"/>
<path d="M848.60,56.18 H844.96 A1.78,1.78 0 0 0 843.18,57.96 V58.09 A1.78,1.78 0 0 0 844.96,59.87 H846.25 A1.78,1.78 0 0 1 848.02,61.65 V62.14 A1.78,1.78 0 0 1 846.25,63.92 H842.60 M850.50,56.18 H857.00 M853.75,56.18 V64.50 M860.28,64.50 V56.18 H863.75 A1.78,1.78 0 0 1 865.52,57.96 V58.45 A1.78,1.78 0 0 1 863.75,60.23 H860.28 M862.90,60.23 L865.75,64.50 M870.36,56.18 H873.64 A1.78,1.78 0 0 1 875.42,57.96 V62.14 A1.78,1.78 0 0 1 873.64,63.92 H870.36 A1.78,1.78 0 0 1 868.58,62.14 V57.96 A1.78,1.78 0 0 1 870.36,56.18 Z M878.88,64.50 V56.18 L884.12,63.92 V55.60 M895.00,56.18 H889.75 A1.78,1.78 0 0 0 887.98,57.96 V62.14 A1.78,1.78 0 0 0 889.75,63.92 H892.64 A1.78,1.78 0 0 0 894.42,62.14 V60.05 H891.20 M902.60,56.18 H898.18 V63.92 H902.60 M898.18,60.05 H902.10 M905.48,64.50 V56.18 H907.85 A1.78,1.78 0 0 1 909.62,57.96 V58.45 A1.78,1.78 0 0 1 907.85,60.23 H905.48 M907.55,60.23 L909.86,64.50" fill="none" stroke="#7a7a7a" stroke-width="1.15" stroke-miterlimit="1.8" />
<path d="M673.80,300.88 H668.88 V308.52 H673.80 M668.88,304.70 H673.24 M678.43,300.20 L675.58,309.20 M680.20,308.52 H681.60 M685.89,300.88 H686.71 A2.52,2.52 0 0 1 689.23,303.39 V306.00 A2.52,2.52 0 0 1 686.71,308.52 H685.89 A2.52,2.52 0 0 1 683.38,306.00 V303.39 A2.52,2.52 0 0 1 685.89,300.88 Z M691.27,300.88 H694.64 M693.97,300.20 V309.20 M691.00,308.52 H696.40 M700.69,300.88 H701.51 A2.52,2.52 0 0 1 704.03,303.39 V306.00 A2.52,2.52 0 0 1 701.51,308.52 H700.69 A2.52,2.52 0 0 1 698.17,306.00 V303.39 A2.52,2.52 0 0 1 700.69,300.88 Z" fill="none" stroke="#7a7a7a" stroke-width="1.35"/>
<path d="M830.07,300.60 V309.60 M829.40,301.28 H833.15 A1.78,1.78 0 0 1 834.93,303.05 V303.05 A1.78,1.78 0 0 1 833.15,304.83 H830.07 M830.07,304.83 H833.55 A1.78,1.78 0 0 1 835.33,306.61 V307.15 A1.78,1.78 0 0 1 833.55,308.93 H829.40 M840.63,300.60 L837.77,309.60 M842.40,308.93 H843.80 M848.09,301.28 H848.91 A2.52,2.52 0 0 1 851.43,303.80 V306.41 A2.52,2.52 0 0 1 848.91,308.93 H848.09 A2.52,2.52 0 0 1 845.57,306.41 V303.80 A2.52,2.52 0 0 1 848.09,301.28 Z M853.47,301.28 H856.84 M856.17,300.60 V309.60 M853.20,308.93 H858.60 M859.70,301.28 H863.50 A1.91,1.91 0 0 1 865.42,303.19 V303.19 A1.91,1.91 0 0 1 863.50,305.10 H861.74 M863.50,305.10 H863.91 A1.91,1.91 0 0 1 865.82,307.01 V307.01 A1.91,1.91 0 0 1 863.91,308.93 H859.70" fill="none" stroke="#7a7a7a" stroke-width="1.35"/>
<text x="704" y="329.4" font-size="14.3" fill="#777" stroke="#777" stroke-width="0.3" textLength="124.4" lengthAdjust="spacingAndGlyphs">СТРУНА / КАЛІБР</text>
<g transform="translate(968.7,274.5) rotate(-90)"><path d="M0.36,-6.20 L6.14,0.00 M6.14,-6.20 L0.36,0.00 M7.50,-5.60 H13.50 M10.50,-5.60 V0.00" fill="none" stroke="#2196cf" stroke-width="1.2" stroke-miterlimit="1.8" /><path d="M25.40,-5.65 H21.35 A1.30,1.30 0 0 0 20.05,-4.35 V-4.52 A1.30,1.30 0 0 0 21.35,-3.22 H23.55 A1.30,1.30 0 0 1 24.85,-1.92 V-1.85 A1.30,1.30 0 0 1 23.55,-0.55 H19.50 M26.50,-5.65 H33.50 M30.00,-5.65 V0.00 M35.43,0.00 L38.35,-5.65 L41.27,0.00 M36.53,-1.98 H40.17 M44.25,0.00 V-5.65 L49.65,-0.55 V-6.20 M52.65,-6.20 V0.00 M52.10,-5.65 H56.75 A1.30,1.30 0 0 1 58.05,-4.35 V-1.85 A1.30,1.30 0 0 1 56.75,-0.55 H52.10 M60.93,0.00 L63.85,-5.65 L66.77,0.00 M62.03,-1.98 H65.67 M69.65,0.00 V-5.65 H73.65 A1.30,1.30 0 0 1 74.95,-4.35 V-4.28 A1.30,1.30 0 0 1 73.65,-2.98 H69.65 M72.30,-2.98 L75.17,0.00 M78.05,-6.20 V0.00 M77.50,-5.65 H82.65 A1.30,1.30 0 0 1 83.95,-4.35 V-1.85 A1.30,1.30 0 0 1 82.65,-0.55 H77.50" fill="none" stroke="#727272" stroke-width="1.1" stroke-miterlimit="1.8" /></g>
<g transform="translate(966,289) scale(1,0.86) rotate(45)" fill="none" stroke="#55afd2" stroke-width="0.95"><rect x="-7.1" y="-1.55" width="14.2" height="3.1" rx="1.55"/><rect x="-1.55" y="-7.1" width="3.1" height="14.2" rx="1.55"/></g>
<text x="20.9" y="377.9" font-size="18.2" font-weight="bold" fill="#dd1434" stroke="#dd1434" stroke-width="0.35" textLength="273" lengthAdjust="spacingAndGlyphs">СТАБІЛЬНИЙ СТРІЙ НАДОВГО</text>
<text x="533" y="378.1" font-size="18.2" font-weight="bold" fill="#dd1434" stroke="#dd1434" stroke-width="0.35" textLength="163.6" lengthAdjust="spacingAndGlyphs">ГРАЙ БЕЗ СТРАХУ!</text>
<text x="22.1" y="408.3" font-size="13.4" fill="#3a3a3a" stroke="#fafafa" stroke-width="0.12" textLength="353" lengthAdjust="spacingAndGlyphs">ВИТРАЧАЙ МЕНШЕ ЧАСУ НА НАЛАШТУВАННЯ ГІТАРИ</text>
<text x="22.1" y="424.5" font-size="13.4" fill="#3a3a3a" stroke="#fafafa" stroke-width="0.12" textLength="410.2" lengthAdjust="spacingAndGlyphs">І БІЛЬШЕ - НА ГРУ! СТРУНИ <tspan fill="#e11a33" stroke="#e11a33" stroke-width="0.5">XT</tspan> ШВИДШЕ НАЛАШТОВУЮТЬСЯ</text>
<text x="22.1" y="440.7" font-size="13.4" fill="#3a3a3a" stroke="#fafafa" stroke-width="0.12" textLength="259.1" lengthAdjust="spacingAndGlyphs">ТА НА 131% ДОВШЕ ТРИМАЮТЬ СТРІЙ!</text>
<text x="533.8" y="408.3" font-size="13.4" fill="#3a3a3a" stroke="#fafafa" stroke-width="0.12" textLength="386" lengthAdjust="spacingAndGlyphs">НЕ БІЙСЯ ВИДАВАТИ ПО-СПРАВЖНЬОМУ ПОТУЖНІ РИФИ.</text>
<text x="533.8" y="424.5" font-size="13.4" fill="#3a3a3a" stroke="#fafafa" stroke-width="0.12" textLength="345.4" lengthAdjust="spacingAndGlyphs">ВЕЛИКА КІЛЬКІСТЬ ТЕСТІВ ДОВЕЛА, ЩО СТРУНИ <tspan fill="#e11a33" stroke="#e11a33" stroke-width="0.5">XT</tspan></text>
<text x="533.8" y="440.7" font-size="13.4" fill="#3a3a3a" stroke="#fafafa" stroke-width="0.12" textLength="290.4" lengthAdjust="spacingAndGlyphs">НА 40% МІЦНІШІ, НІЖ СТАНДАРТНІ СТРУНИ!</text>
</svg></body></html>
